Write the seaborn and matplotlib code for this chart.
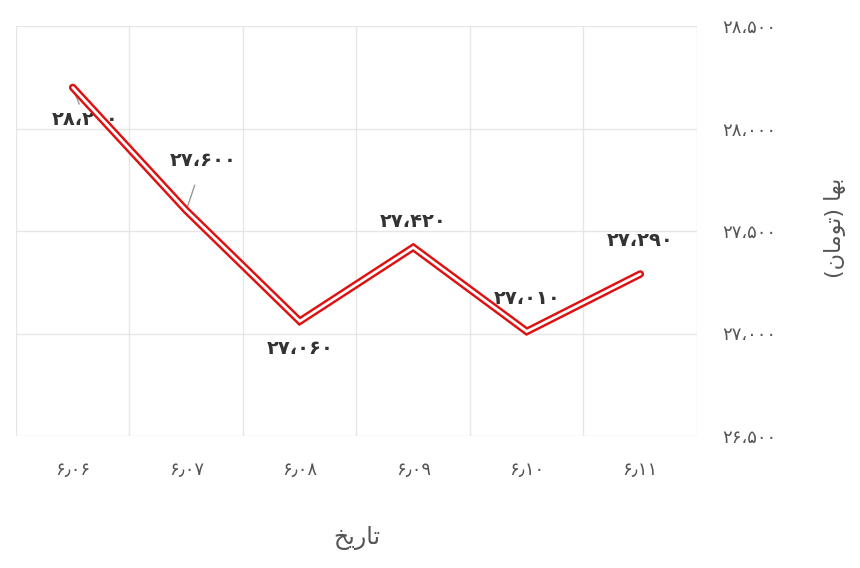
import matplotlib
matplotlib.use("Agg")
import matplotlib.pyplot as plt
import seaborn as sns
import pandas as pd
from matplotlib.ticker import FixedLocator

dates = ["۶٫۰۶", "۶٫۰۷", "۶٫۰۸", "۶٫۰۹", "۶٫۱۰", "۶٫۱۱"]
prices = [28200, 27600, 27060, 27420, 27010, 27290]
price_labels = ["۲۸،۲۰۰", "۲۷،۶۰۰", "۲۷،۰۶۰", "۲۷،۴۲۰", "۲۷،۰۱۰", "۲۷،۲۹۰"]
y_ticks = [26500, 27000, 27500, 28000, 28500]
y_tick_labels = ["۲۶،۵۰۰", "۲۷،۰۰۰", "۲۷،۵۰۰", "۲۸،۰۰۰", "۲۸،۵۰۰"]
x_title = "ﺦﻳﺭﺎﺗ"          # تاریخ (pre-shaped, visual order)
y_title = "(ﻥﺎﻣﻮﺗ) ﺎﻬﺑ"    # بها (تومان)

sns.set_theme(style="white")
plt.rcParams['font.family'] = ['DejaVu Sans']

df = pd.DataFrame({"pos": list(range(len(dates))), "price": prices})

fig = plt.figure(figsize=(8.6, 5.68), dpi=100)
ax = fig.add_axes([16/860, 1-436/568, (697-16)/860, (436-26)/568])

sns.lineplot(data=df, x="pos", y="price", ax=ax, color="#e01010", linewidth=5.5,
             solid_joinstyle="miter", zorder=3)
sns.lineplot(data=df, x="pos", y="price", ax=ax, color="white", linewidth=2.0,
             solid_joinstyle="miter", zorder=4)

ax.set_xlim(-0.5, len(dates) - 0.5)
ax.set_ylim(26500, 28500)

ax.set_xticks(range(len(dates)))
ax.set_xticklabels(dates, fontsize=13, color="#555555")
ax.xaxis.set_minor_locator(FixedLocator([i - 0.5 for i in range(len(dates) + 1)]))
ax.set_yticks(y_ticks)
ax.set_yticklabels(y_tick_labels, fontsize=13, color="#555555")
ax.yaxis.tick_right()
ax.tick_params(axis="y", length=0, pad=18)
ax.tick_params(axis="x", which="both", length=0, pad=18)

ax.grid(False)
ax.grid(True, axis="y", which="major", color="#e6e6e6", linewidth=1)
ax.grid(True, axis="x", which="minor", color="#e6e6e6", linewidth=1)
for s in ax.spines.values():
    s.set_visible(False)

ax.set_xlabel(x_title, fontsize=17, color="#555555", labelpad=34)
ax.set_ylabel("")
fig.text(835/860, 1-228/568, y_title, rotation=90, fontsize=16, color="#555555",
         ha="center", va="center")

offsets = [(9, -23), (12, 36), (0, -20), (0, 19), (0, 24), (0, 24)]
leaders = [True, True, False, False, False, False]
for i, (p, lab) in enumerate(zip(prices, price_labels)):
    dx, dy = offsets[i]
    ax.annotate(lab, xy=(i, p), xytext=(dx, dy), textcoords="offset points",
                ha="center", va="center", fontsize=14, fontweight="bold",
                color="#333333", zorder=2,
                arrowprops=(dict(arrowstyle="-", color="#999999", lw=1,
                                 shrinkA=2 if i == 0 else 9, shrinkB=1)
                            if leaders[i] else None))

fig.savefig("out.png", dpi=100)
